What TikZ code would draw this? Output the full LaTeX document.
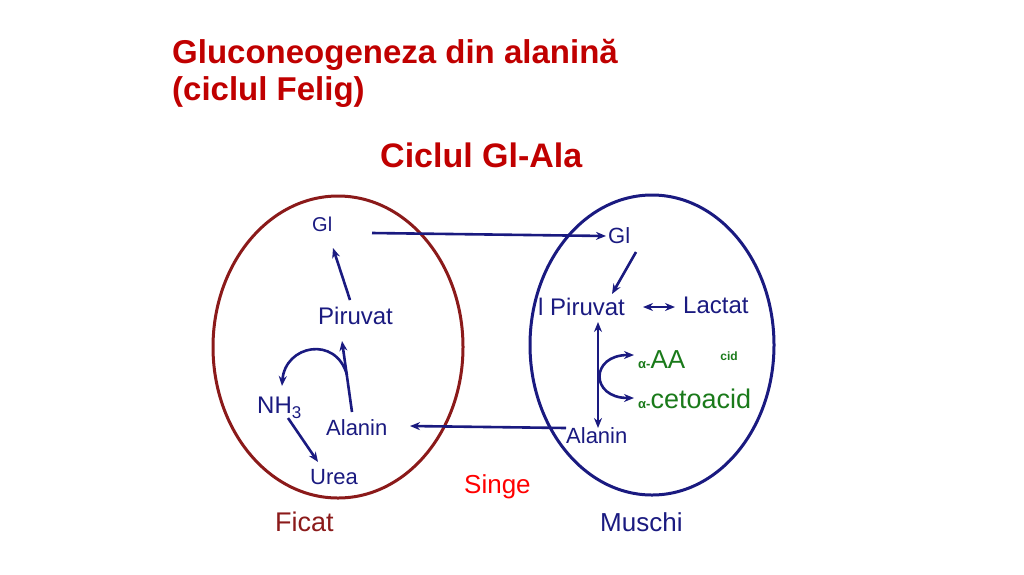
\documentclass[tikz,border=0pt]{standalone}
\usepackage{fontspec}
\setmainfont{Liberation Sans}
\usetikzlibrary{arrows.meta}
\definecolor{nv}{HTML}{1A1A80}
\definecolor{dr}{HTML}{8B1A1A}
\definecolor{ttl}{HTML}{C00000}
\definecolor{gr}{HTML}{1A7A1A}
\begin{document}
\begin{tikzpicture}[x=1pt,y=-1pt,
 lbl/.style={text=nv,font=\fontsize{24}{24}\selectfont,inner sep=0pt,anchor=west},
 ar/.style={draw=nv,line width=2.6pt,-{Stealth[length=10pt,width=8pt]}},
 dar/.style={draw=nv,line width=2.6pt,{Stealth[length=10pt,width=8pt]}-{Stealth[length=10pt,width=8pt]}}]
\useasboundingbox (0,0) rectangle (1024,574);
\node[anchor=west,inner sep=0pt,text=ttl,font=\fontsize{33}{33}\selectfont\bfseries] (t1) at (172,55) {Gluconeogeneza din alanină};
\node[anchor=west,inner sep=0pt,text=ttl,font=\fontsize{33}{33}\selectfont\bfseries] (t2) at (172,92) {(ciclul Felig)};
\node[anchor=west,inner sep=0pt,text=ttl,font=\fontsize{34}{34}\selectfont\bfseries] (cy) at (380,155) {Ciclul Gl-Ala};
\draw[dr,line width=3pt] (338,347) ellipse [x radius=125,y radius=151];
\draw[nv,line width=3pt] (652,345) ellipse [x radius=122,y radius=150];
\node[lbl,font=\fontsize{20}{20}\selectfont] (gl1) at (312,224) {Gl};
\node[lbl] (pi1) at (318,316) {Piruvat};
\node[lbl] (nh) at (257,408) {NH\raisebox{-5pt}{\fontsize{17}{17}\selectfont 3}};
\node[lbl,font=\fontsize{22}{22}\selectfont] (al1) at (326,428) {Alanin};
\node[lbl,font=\fontsize{22}{22}\selectfont] (ur) at (310,477) {Urea};
\node[lbl,font=\fontsize{22}{22}\selectfont] (gl2) at (608,236) {Gl};
\node[lbl] (pi2) at (538,307) {l Piruvat};
\node[lbl] (la) at (683,305) {Lactat};
\node[text=gr,font=\fontsize{26}{26}\selectfont,inner sep=0pt,anchor=west] (aa) at (638,360) {{\fontsize{13}{13}\selectfont\bfseries α-}AA};
\node[text=gr,font=\fontsize{12}{12}\selectfont\bfseries] (cid) at (729,356) {cid};
\node[text=gr,font=\fontsize{27}{27}\selectfont,inner sep=0pt,anchor=west] (ce) at (638,399) {{\fontsize{13}{13}\selectfont\bfseries α-}cetoacid};
\node[lbl,font=\fontsize{22}{22}\selectfont] (al2) at (566,436) {Alanin};
\node[text=red,font=\fontsize{26}{26}\selectfont,inner sep=0pt,anchor=west] (si) at (464,487) {Singe};
\node[text=dr,font=\fontsize{27}{27}\selectfont,inner sep=0pt,anchor=west] (fi) at (275,522) {Ficat};
\node[text=nv,font=\fontsize{26}{26}\selectfont,inner sep=0pt,anchor=west] (mu) at (600,522) {Muschi};
\coordinate (c1) at (372,233);
\draw[ar] (c1) -- (606,236);
\draw[ar] (566,428) -- (410,426);
\draw[ar] (350,300) -- (333,248);
\draw[ar] (352,412) -- (342,341);
\draw[ar] (347,375) .. controls (336,335) and (285,345) .. (282,386);
\draw[ar] (288,418) -- (318,462);
\draw[ar] (636,252) -- (612,294);
\draw[dar] (643,307) -- (675,307);
\draw[dar] (598,322) -- (598,428);
\draw[dar] (634,355) .. controls (590,355) and (590,398) .. (634,398);
\end{tikzpicture}
\end{document}
